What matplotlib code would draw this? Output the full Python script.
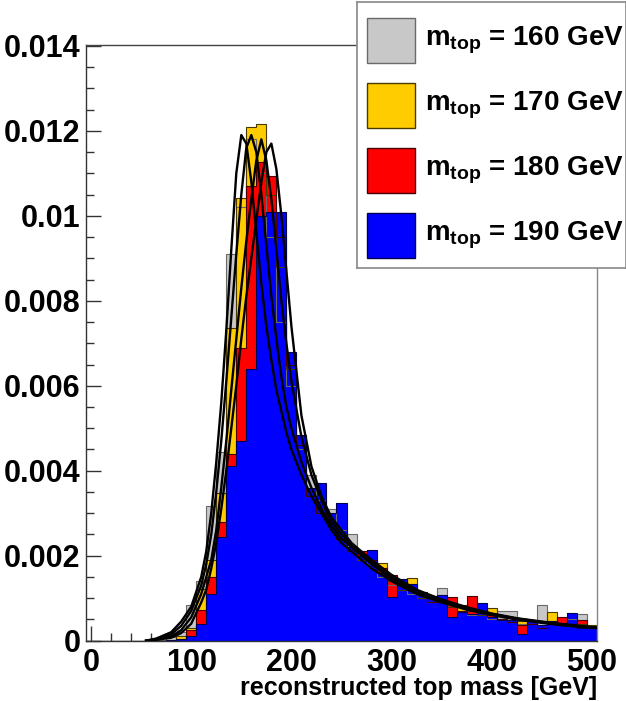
import numpy as np
import matplotlib
matplotlib.use("Agg")
import matplotlib.pyplot as plt
from matplotlib.patches import Rectangle
from matplotlib.ticker import MultipleLocator, FuncFormatter

plt.rcParams['font.family'] = ['Liberation Sans', 'DejaVu Sans']
plt.rcParams['mathtext.fontset'] = 'custom'
plt.rcParams['mathtext.rm'] = 'Liberation Sans:bold'
plt.rcParams['mathtext.it'] = 'Liberation Sans:bold'
plt.rcParams['mathtext.bf'] = 'Liberation Sans:bold'

# bin centres 0..500 GeV, 10 GeV wide
centers = np.arange(0, 510, 10)
edges = np.append(centers - 5, centers[-1] + 5)

masses = [160, 170, 180, 190]
colors = ['#c8c8c8', '#ffcc00', '#ff0000', '#0000ff']
edge_colors = ['#6a6a6a', '#4a3a00', '#4a0000', '#000050']

h160 = [0, 0, 0, 0, 0, 0, 0, 0.00002, 0.00008, 0.0002,
        0.00084, 0.0014, 0.00316, 0.00445, 0.0091, 0.0102, 0.0118, 0.0110, 0.0095, 0.0075,
        0.0060, 0.0045, 0.0039, 0.0033, 0.0031, 0.0026, 0.0025, 0.0019, 0.0018, 0.0015,
        0.0013, 0.0012, 0.0011, 0.0010, 0.0009, 0.00123, 0.0008, 0.0007, 0.0006, 0.0007,
        0.0005, 0.00071, 0.00071, 0.0004, 0.0004, 0.00084, 0.0004, 0.0004, 0.0005, 0.00062,
        0.0003]
h170 = [0, 0, 0, 0, 0, 0, 0, 0, 0.00002, 0.0001,
        0.0003, 0.00122, 0.0019, 0.00347, 0.00735, 0.01043, 0.01209, 0.01217, 0.0105, 0.0088,
        0.0064, 0.0046, 0.0034, 0.0031, 0.0028, 0.0025, 0.0021, 0.0019, 0.0019, 0.00183,
        0.0014, 0.0012, 0.00147, 0.0010, 0.0009, 0.0009, 0.0008, 0.00083, 0.0007, 0.0006,
        0.00076, 0.0005, 0.00045, 0.00047, 0.0004, 0.0003, 0.00068, 0.0004, 0.0004, 0.0004,
        0.00036]
h180 = [0, 0, 0, 0, 0, 0, 0, 0, 0, 0.00005,
        0.00025, 0.00072, 0.0015, 0.0028, 0.0044, 0.0069, 0.0107, 0.01127, 0.01093, 0.0095,
        0.0065, 0.0046, 0.0034, 0.0030, 0.0028, 0.0024, 0.0021, 0.0021, 0.0019, 0.0017,
        0.00155, 0.0013, 0.0012, 0.0011, 0.0009, 0.0009, 0.00102, 0.0007, 0.00106, 0.0007,
        0.00062, 0.00052, 0.00045, 0.00036, 0.0004, 0.0003, 0.0004, 0.00056, 0.0004, 0.00048,
        0.0003]
h190 = [0, 0, 0, 0, 0, 0, 0, 0, 0.00001, 0.00003,
        0.0001, 0.0004, 0.0011, 0.00245, 0.0041, 0.0047, 0.0064, 0.0100, 0.0101, 0.0101,
        0.0068, 0.00484, 0.0036, 0.0037, 0.0030, 0.00323, 0.0022, 0.0020, 0.00214, 0.0016,
        0.00104, 0.00145, 0.00133, 0.00115, 0.00105, 0.00108, 0.00056, 0.00068, 0.00064, 0.00089,
        0.00055, 0.00048, 0.00049, 0.00016, 0.00049, 0.00037, 0.00047, 0.00042, 0.00066, 0.00031,
        0.00031]

# fit curves
fit_x = [55, 65, 80, 90, 100, 110, 115, 120, 125, 130, 135, 140, 145, 150, 155, 160, 165, 170,
         175, 180, 185, 190, 195, 200, 210, 220, 230, 240, 250, 260, 280, 300, 325, 350, 375,
         400, 425, 450, 475, 505]
fit160 = [0, 0.00005, 0.0002, 0.00045, 0.0008, 0.0015, 0.0021, 0.0030, 0.0042, 0.0056, 0.0073,
          0.0092, 0.0110, 0.0119, 0.0117, 0.0108, 0.0096, 0.0084, 0.0074, 0.0066, 0.0059, 0.0054,
          0.0049, 0.0045, 0.0039, 0.0034, 0.0030, 0.0026, 0.0023, 0.0021, 0.0017, 0.0014, 0.0011,
          0.0009, 0.00073, 0.0006, 0.0005, 0.00042, 0.00035, 0.0003]
fit170 = [0, 0.00004, 0.00015, 0.00035, 0.0007, 0.0013, 0.0018, 0.0025, 0.0035, 0.0047, 0.0061,
          0.0076, 0.0091, 0.0105, 0.0116, 0.0119, 0.0115, 0.0105, 0.0093, 0.0081, 0.0071, 0.0062,
          0.0055, 0.0050, 0.0042, 0.0036, 0.0031, 0.0027, 0.0024, 0.0022, 0.0018, 0.00145, 0.00114,
          0.00093, 0.00075, 0.00062, 0.00051, 0.00043, 0.00036, 0.0003]
fit180 = [0, 0.00003, 0.0001, 0.00025, 0.00055, 0.0011, 0.0015, 0.0019, 0.0026, 0.0036, 0.0047,
          0.0059, 0.0071, 0.0083, 0.0094, 0.0104, 0.0113, 0.0118, 0.0113, 0.0104, 0.0092, 0.0080,
          0.0070, 0.0061, 0.0048, 0.0039, 0.0033, 0.0028, 0.0025, 0.00225, 0.00185, 0.0015, 0.00118,
          0.00095, 0.00077, 0.00063, 0.00052, 0.00044, 0.00037, 0.0003]
fit190 = [0, 0.00002, 0.00007, 0.00018, 0.0004, 0.0009, 0.0012, 0.0017, 0.0023, 0.0031, 0.0040,
          0.0050, 0.0060, 0.0071, 0.0081, 0.0090, 0.0099, 0.0108, 0.0115, 0.0117, 0.0111, 0.0100,
          0.0087, 0.0074, 0.0053, 0.0041, 0.0034, 0.0029, 0.0026, 0.0023, 0.0019, 0.00155, 0.0012,
          0.00097, 0.00079, 0.00064, 0.00053, 0.00045, 0.00038, 0.00031]

hists = [h160, h170, h180, h190]
fits = [fit160, fit170, fit180, fit190]

fig = plt.figure(figsize=(6.26, 7.01), dpi=100)
ax = fig.add_axes([86 / 626, 1 - 640.7 / 701, 511 / 626, 595.7 / 701])

for h, c, ec in zip(hists, colors, edge_colors):
    ax.stairs(h, edges, fill=True, facecolor=c, edgecolor='none', zorder=2)
    ax.stairs(h, edges, color=ec, linewidth=0.8, zorder=2.1)

for f in fits:
    ax.plot(fit_x, f, color='black', linewidth=1.7, zorder=3)

ax.set_xlim(-5, 505)
ax.set_ylim(0, 0.01402)

ax.xaxis.set_major_locator(MultipleLocator(100))
ax.xaxis.set_minor_locator(MultipleLocator(20))
ax.yaxis.set_major_locator(MultipleLocator(0.002))
ax.yaxis.set_minor_locator(MultipleLocator(0.0005))
ax.yaxis.set_major_formatter(FuncFormatter(lambda v, p: f'{v:g}'))

ax.tick_params(axis='both', which='both', direction='in', top=False, right=False,
               labelsize=22, width=1, color='#333333')
ax.tick_params(axis='both', which='major', length=11)
ax.tick_params(axis='both', which='minor', length=5.5)
ax.tick_params(axis='x', pad=5)
ax.tick_params(axis='y', pad=4)
for lab in ax.get_xticklabels() + ax.get_yticklabels():
    lab.set_fontweight('bold')

for side in ['left', 'bottom']:
    ax.spines[side].set_color('#333333')
    ax.spines[side].set_linewidth(1.0)
ax.spines['top'].set_color('#444444')
ax.spines['right'].set_color('#888888')
for side in ['top', 'right']:
    ax.spines[side].set_linewidth(1.0)

ax.set_xlabel('reconstructed top mass [GeV]', fontsize=18, fontweight='bold')
ax.xaxis.set_label_coords(1.0, -(688 - 640.7) / 595.7)
ax.xaxis.label.set_horizontalalignment('right')
ax.xaxis.label.set_verticalalignment('center')

# legend box
lax = fig.add_axes([357 / 626, 1 - 268 / 701, 269 / 626, 266 / 701], zorder=5)
lax.set_xlim(0, 269)
lax.set_ylim(266, 0)
lax.set_xticks([])
lax.set_yticks([])
for s in lax.spines.values():
    s.set_color('#888888')
    s.set_linewidth(1.2)
for i, (m, c, ec) in enumerate(zip(masses, colors, edge_colors)):
    y0 = 16 + i * 65
    lax.add_patch(Rectangle((10, y0), 48, 45, facecolor=c, edgecolor=ec, linewidth=1))
    lax.text(68, y0 + 22, r'$\mathrm{m_{top}}$' + f' = {m} GeV', fontsize=20,
             fontweight='bold', va='center', ha='left')

fig.savefig('out.png', dpi=100)
